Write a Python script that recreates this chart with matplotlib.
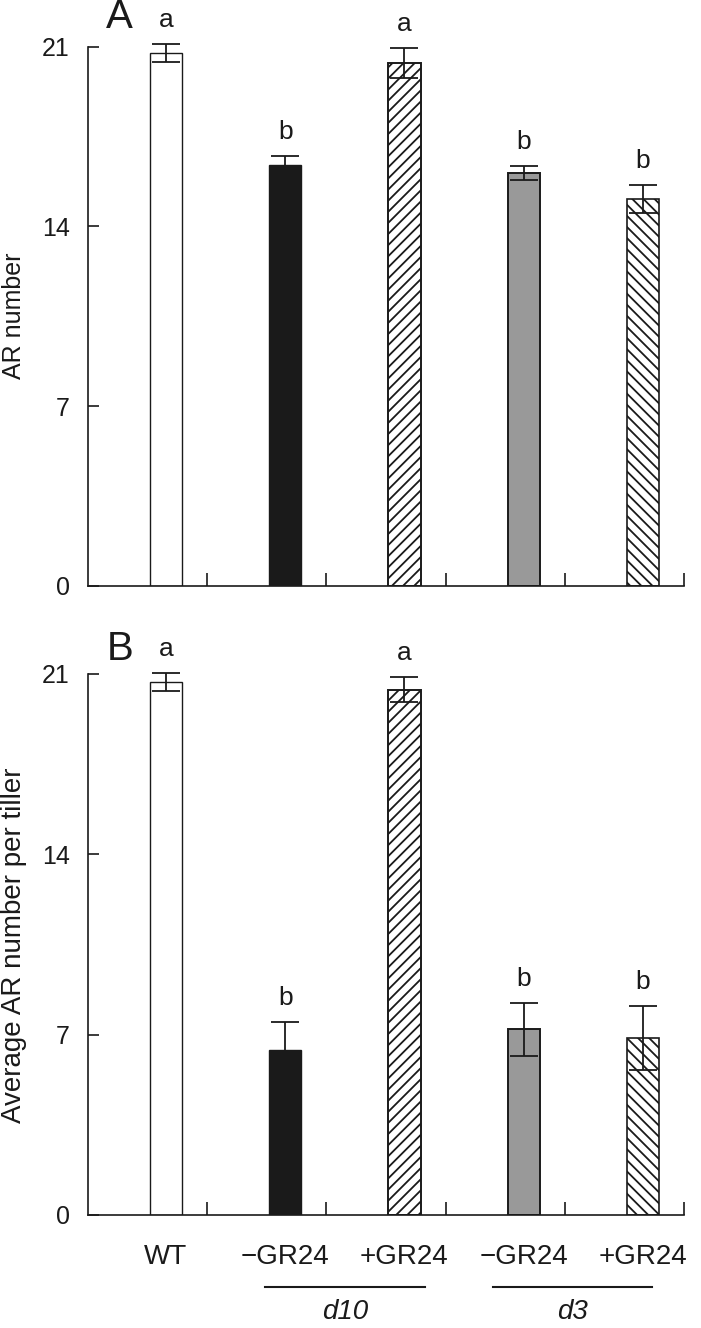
import matplotlib
matplotlib.use('Agg')
import matplotlib.pyplot as plt
import numpy as np

plt.rcParams['font.family'] = ['Liberation Sans', 'DejaVu Sans']
plt.rcParams['hatch.linewidth'] = 1.3
plt.rcParams['hatch.color'] = '#1a1a1a'

# === data ===
categories = ['WT', '\u2212GR24', '+GR24', '\u2212GR24', '+GR24']
groups = ['d10', 'd3']
group_span = [(0.83, 2.17), (2.74, 4.08)]   # x extent of the group underline (bar units)

ar_mean = [20.75, 16.4, 20.38, 16.07, 15.07]
ar_err = [0.35, 0.35, 0.58, 0.27, 0.56]
ar_letters = ['a', 'b', 'a', 'b', 'b']

tiller_mean = [20.68, 6.4, 20.38, 7.2, 6.85]
tiller_err = [0.36, 1.1, 0.48, 1.03, 1.24]
tiller_letters = ['a', 'b', 'a', 'b', 'b']

yticks = [0, 7, 14, 21]

faces = ['white', '#1a1a1a', 'white', '#999999', 'white']
hatches = [None, None, '///', None, '\\\\\\']
edge_w = [1.0, 1.0, 1.4, 1.4, 1.2]

W, H = 701, 1328
fig = plt.figure(figsize=(W / 100, H / 100), dpi=100)

x = np.arange(len(categories))


def draw_panel(ax, means, errs, letters):
    for i in range(len(x)):
        ax.bar(x[i], means[i], width=0.27, color=faces[i], edgecolor='#1a1a1a',
               linewidth=edge_w[i], hatch=hatches[i], zorder=2)
    ax.errorbar(x, means, yerr=errs, fmt='none', ecolor='#1a1a1a', elinewidth=1.3,
                capsize=10, capthick=1.3, zorder=3, clip_on=False)
    for xi, m, e, lab in zip(x, means, errs, letters):
        ax.annotate(lab, (xi, m + e), xytext=(0, 24), textcoords='offset pixels',
                    ha='center', va='center', fontsize=19, color='#1a1a1a',
                    annotation_clip=False)

    ax.set_xlim(-0.654, 4.345)
    ax.set_ylim(0, 21)
    ax.set_yticks(yticks)
    ax.set_xticks(x + 0.345)
    ax.set_xticklabels([])
    for s in ['top', 'right']:
        ax.spines[s].set_visible(False)
    for s in ['left', 'bottom']:
        ax.spines[s].set_linewidth(1.2)
        ax.spines[s].set_color('#1a1a1a')
    ax.tick_params(axis='y', direction='in', length=8, width=1.2, pad=13,
                   labelsize=18, colors='#1a1a1a')
    ax.tick_params(axis='x', direction='in', length=9.5, width=1.2, colors='#1a1a1a')


# panel A
axA = fig.add_axes([88 / W, 1 - 586 / H, 596 / W, 539.3 / H])
draw_panel(axA, ar_mean, ar_err, ar_letters)

# panel B
axB = fig.add_axes([88 / W, 1 - 1215 / H, 596 / W, 541.3 / H])
draw_panel(axB, tiller_mean, tiller_err, tiller_letters)

axB.set_xticks(x, categories, minor=True)
axB.tick_params(axis='x', which='minor', length=0, pad=21, labelsize=20,
                labelcolor='#1a1a1a')

# group underlines with genotype names
tr = axB.get_xaxis_transform()
for name, (x0, x1) in zip(groups, group_span):
    axB.plot([x0, x1], [-0.133, -0.133], color='#1a1a1a', lw=1.5,
             transform=tr, clip_on=False)
    axB.text((x0 + x1) / 2, -0.18, name, transform=tr, ha='center', va='center',
             fontsize=20, style='italic', color='#1a1a1a')

fig.text(14 / W, 1 - 316 / H, 'AR number', rotation=90, ha='center', va='center',
         fontsize=18, color='#1a1a1a')
fig.text(14 / W, 1 - 945 / H, 'Average AR number per tiller', rotation=90,
         ha='center', va='center', fontsize=20, color='#1a1a1a')

fig.text(119 / W, 1 - 17 / H, 'A', fontsize=29, ha='center', va='center', color='#1a1a1a')
fig.text(120 / W, 1 - 649 / H, 'B', fontsize=29, ha='center', va='center', color='#1a1a1a')

fig.savefig('out.png', dpi=100)
